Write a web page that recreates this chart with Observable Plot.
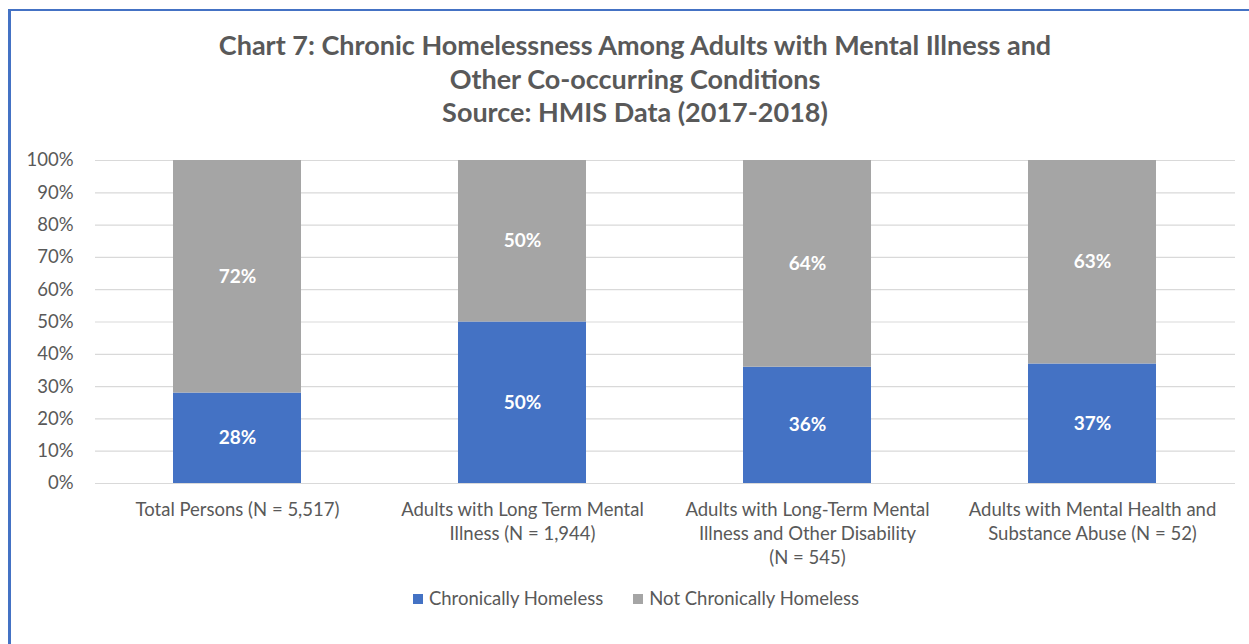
<!DOCTYPE html>
<html>
<head>
<meta charset="utf-8">
<script src="https://cdn.jsdelivr.net/npm/d3@7"></script>
<script src="https://cdn.jsdelivr.net/npm/@observablehq/plot@0.6"></script>
<style>
  html, body { margin: 0; padding: 0; background: #fff; }
  body { width: 1249px; height: 644px; position: relative; overflow: hidden; font-family: Lato, "Open Sans", sans-serif; }
  #bl { position: absolute; left: 8px; top: 9px; width: 3px; height: 640px; background: #4472c4; }
  #bt { position: absolute; left: 8px; top: 9px; width: 1245px; height: 2px; background: #4472c4; }
  #title { position: absolute; left: 0; top: 28px; width: 1270px; text-align: center; color: #595959; font-weight: bold; font-size: 27px; line-height: 33.5px; }
  #chart { position: absolute; left: 0; top: 140px; }
  #legend { position: absolute; left: 0; top: 587px; width: 1272px; text-align: center; color: #595959; font-size: 18.5px; }
  .sw { display: inline-block; width: 10px; height: 10px; margin-right: 6px; vertical-align: 1px; }
  .item { margin: 0 15px; }
</style>
</head>
<body>
<div id="bl"></div><div id="bt"></div>
<div id="title"></div>
<div id="chart"></div>
<div id="legend"></div>
<script>
const titleLines = [
  "Chart 7: Chronic Homelessness Among Adults with Mental Illness and",
  "Other Co-occurring Conditions",
  "Source: HMIS Data (2017-2018)"
];
const categories = [
  "Total Persons (N = 5,517)",
  "Adults with Long Term Mental\nIllness (N = 1,944)",
  "Adults with Long-Term Mental\nIllness and Other Disability\n(N = 545)",
  "Adults with Mental Health and\nSubstance Abuse (N = 52)"
];
const seriesNames = ["Chronically Homeless", "Not Chronically Homeless"];
const chronic = [28, 50, 36, 37];
const notChronic = [72, 50, 64, 63];
const yTicks = [0, 10, 20, 30, 40, 50, 60, 70, 80, 90, 100];
const colors = ["#4472c4", "#a5a5a5"];

document.getElementById("title").innerHTML = titleLines.join("<br>");

const data = [];
categories.forEach((c, i) => {
  data.push({cat: c, series: seriesNames[0], value: chronic[i]});
  data.push({cat: c, series: seriesNames[1], value: notChronic[i]});
});

const stackOpts = {x: "cat", y: "value", z: "series", order: seriesNames};

const chart = Plot.plot({
  width: 1249,
  height: 440,
  marginTop: 20,
  marginBottom: 97,
  marginLeft: 95,
  marginRight: 14,
  style: {fontFamily: "Lato, 'Open Sans', sans-serif", fontSize: "18.5px", color: "#595959", background: "transparent"},
  x: {domain: categories, paddingInner: 0.55, paddingOuter: 0.275, label: null},
  y: {domain: [0, 100], label: null},
  color: {domain: seriesNames, range: colors},
  marks: [
    Plot.ruleY(yTicks, {stroke: "#d9d9d9", strokeWidth: 1.2}),
    Plot.barY(data, Plot.stackY({...stackOpts, fill: "series"})),
    Plot.text(data, Plot.stackY({...stackOpts, text: d => d.value + "%", fill: "white", fontWeight: "bold", fontSize: 19})),
    Plot.axisY({ticks: yTicks, tickFormat: d => d + "%", tickSize: 0, tickPadding: 22, fontSize: 18.5, fill: "#595959", label: null}),
    Plot.axisX({tickSize: 0, tickPadding: 15, fontSize: 18.5, lineHeight: 1.3, fill: "#595959", label: null})
  ]
});
document.getElementById("chart").appendChild(chart);

document.getElementById("legend").innerHTML = seriesNames.map((s, i) =>
  `<span class="item"><span class="sw" style="background:${colors[i]}"></span>${s}</span>`).join("");
</script>
</body>
</html>
